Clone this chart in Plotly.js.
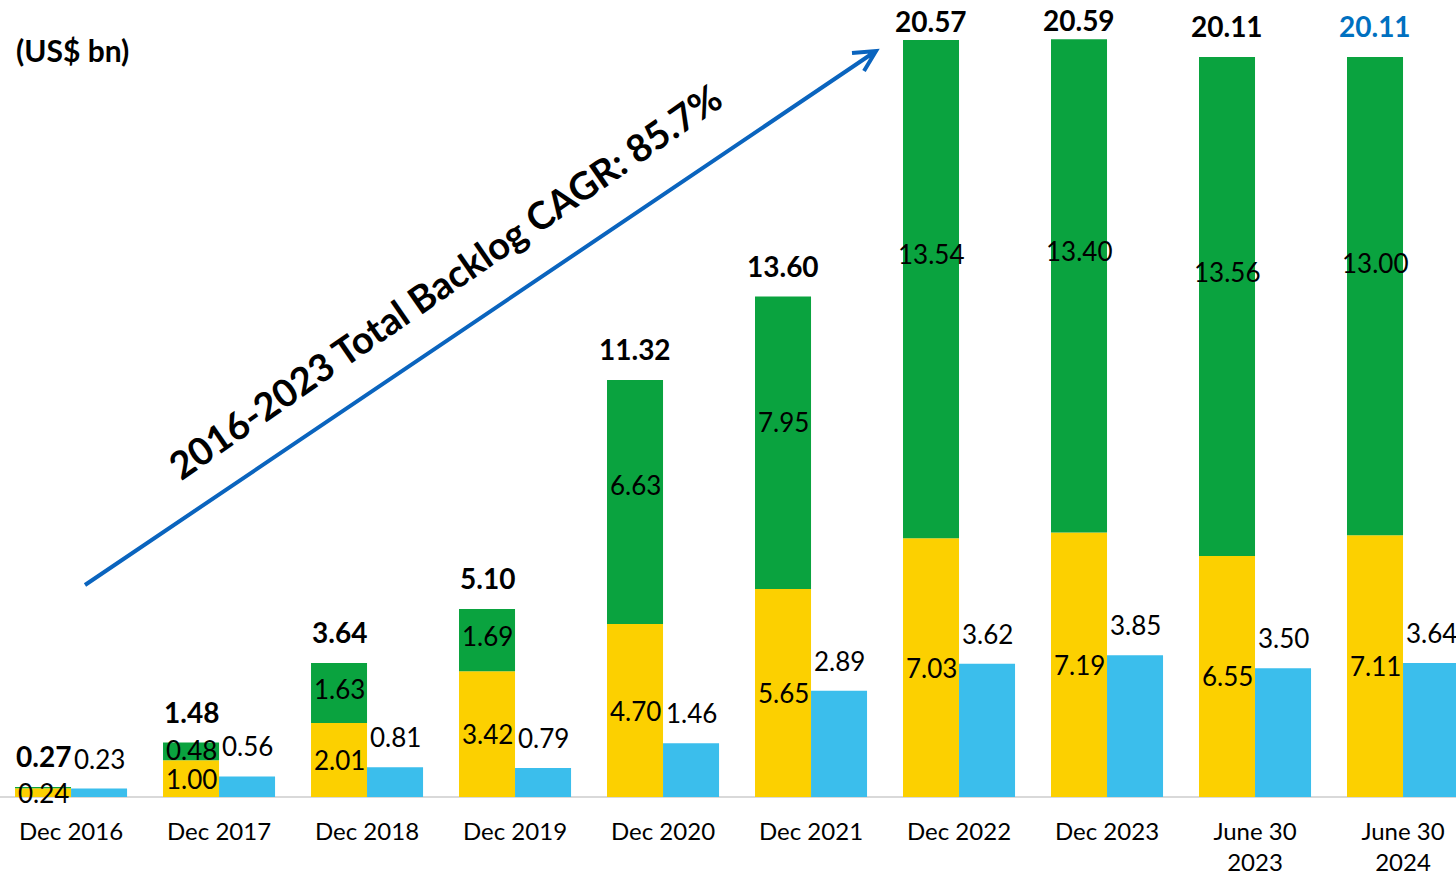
<!DOCTYPE html>
<html>
<head>
<meta charset="utf-8">
<script src="https://cdn.plot.ly/plotly-3.0.1.min.js"></script>
<style>
html,body{margin:0;padding:0;background:#fff;}
#chart{width:1456px;height:877px;}
</style>
</head>
<body>
<div id="chart"></div>
<script>
const categories = ['Dec 2016','Dec 2017','Dec 2018','Dec 2019','Dec 2020','Dec 2021','Dec 2022','Dec 2023','June 30<br>2023','June 30<br>2024'];
const yellowVals = [0.24,1.00,2.01,3.42,4.70,5.65,7.03,7.19,6.55,7.11];
const greenVals  = [0.03,0.48,1.63,1.69,6.63,7.95,13.54,13.40,13.56,13.00];
const totals     = [0.27,1.48,3.64,5.10,11.32,13.60,20.57,20.59,20.11,20.11];
const blueVals   = [0.23,0.56,0.81,0.79,1.46,2.89,3.62,3.85,3.50,3.64];
const unitLabel = '(US$ bn)';
const cagrLabel = '2016-2023 Total Backlog CAGR: 85.7%';

const YELLOW = '#FCD000', GREEN = '#0AA33F', BLUE = '#3BBEEC', ARROW = '#0A64BE';
const FONT = 'Lato, "Open Sans", sans-serif';
const BARGAP = 0.243;
const half = (1 - BARGAP) / 4; // center offset of each bar in group
const W = 1456, PLOT_BOTTOM = 797, PX_PER_UNIT = 36.8;
const px2x = p => p / W;
const py2y = p => (PLOT_BOTTOM - p) / PLOT_BOTTOM;

const traces = [
  {type:'bar', x:categories, y:yellowVals, offsetgroup:'stack', marker:{color:YELLOW}, hoverinfo:'skip'},
  {type:'bar', x:categories, y:greenVals, base:yellowVals, offsetgroup:'stack', marker:{color:GREEN}, hoverinfo:'skip'},
  {type:'bar', x:categories, y:blueVals, offsetgroup:'blue', marker:{color:BLUE}, hoverinfo:'skip'}
];

const ann = [];
const lblFont = {family:FONT, size:26, color:'#000'};
categories.forEach((c,i)=>{
  ann.push({x:i-half, y:yellowVals[i]/2, xref:'x', yref:'y', text:yellowVals[i].toFixed(2), showarrow:false, font:lblFont});
  if (greenVals[i] >= 0.1) {
    ann.push({x:i-half, y:yellowVals[i]+greenVals[i]*0.57, xref:'x', yref:'y', text:greenVals[i].toFixed(2), showarrow:false, font:lblFont});
  }
  // total label: kept inside the chart area when the bar reaches the top
  const barTopPx = PLOT_BOTTOM - totals[i]*PX_PER_UNIT;
  const shift = Math.max(0, Math.min(12, barTopPx - 40));
  ann.push({x:i-half, y:totals[i], xref:'x', yref:'y', text:'<b>'+totals[i].toFixed(2)+'</b>', showarrow:false, yanchor:'bottom', yshift:shift,
    font:{family:FONT, size:28, color: i===categories.length-1 ? '#0070C0' : '#000'}});
  ann.push({x:i+half, y:blueVals[i], xref:'x', yref:'y', text:blueVals[i].toFixed(2), showarrow:false, yanchor:'bottom', yshift:12, font:lblFont});
});

ann.push({xref:'paper', yref:'paper', x:px2x(14), y:py2y(50), xanchor:'left', yanchor:'middle', text:'<b>'+unitLabel+'</b>', showarrow:false,
  font:{family:FONT, size:30, color:'#000'}});
ann.push({xref:'paper', yref:'paper', x:px2x(444), y:py2y(281), xanchor:'center', yanchor:'middle', text:'<b>'+cagrLabel+'</b>', showarrow:false, textangle:-34.7,
  font:{family:FONT, size:38, color:'#000'}});

// arrow (line + open V head)
const tail = [85,585], tip = [876,51];
const armA = [852,53], armB = [864,71];
const pt = p => px2x(p[0]).toFixed(5)+','+py2y(p[1]).toFixed(5);
const shapes = [{type:'path', xref:'paper', yref:'paper',
  path:'M'+pt(tail)+' L'+pt(tip)+' M'+pt(armA)+' L'+pt(tip)+' L'+pt(armB),
  line:{color:ARROW, width:4}}];

const layout = {
  width:1456, height:877,
  margin:{l:0, r:0, t:0, b:80, pad:0},
  paper_bgcolor:'#fff', plot_bgcolor:'#fff',
  barmode:'group', bargap:BARGAP, bargroupgap:0,
  showlegend:false, hovermode:false,
  xaxis:{type:'category', range:[-0.48, 9.358], showgrid:false, zeroline:false,
    showline:false, ticks:'outside', ticklen:13, tickcolor:'rgba(0,0,0,0)',
    tickfont:{family:FONT, size:24, color:'#000'}, fixedrange:true},
  yaxis:{range:[0, PLOT_BOTTOM/PX_PER_UNIT], showgrid:false, zeroline:true, zerolinecolor:'#D9D9D9', zerolinewidth:2,
    showticklabels:false, ticks:'', fixedrange:true},
  annotations:ann,
  shapes:shapes,
  font:{family:FONT}
};

Plotly.newPlot('chart', traces, layout, {displayModeBar:false, staticPlot:true});
</script>
</body>
</html>
